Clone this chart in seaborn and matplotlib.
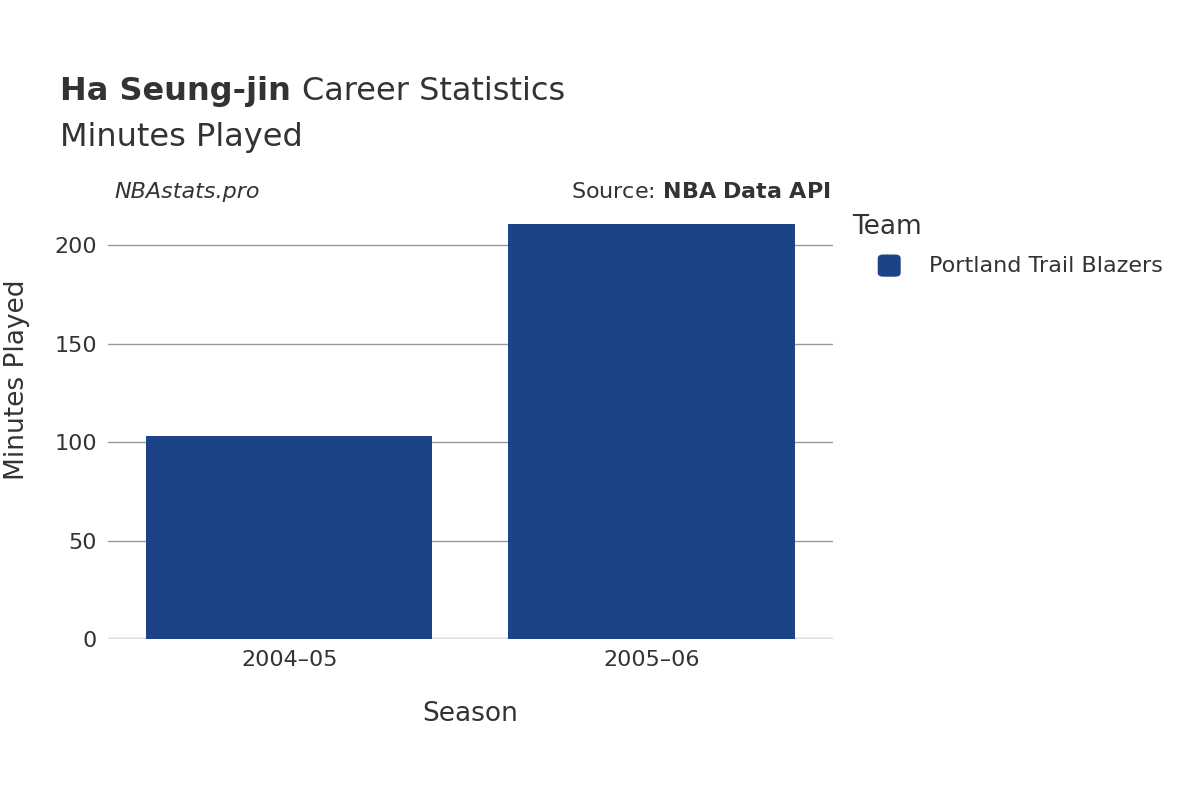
import matplotlib
matplotlib.use("Agg")
import matplotlib.pyplot as plt
import seaborn as sns
import pandas as pd

seasons = ["2004–05", "2005–06"]
minutes = [103, 211]
team = ["Portland Trail Blazers", "Portland Trail Blazers"]

df = pd.DataFrame({"Season": seasons, "Minutes": minutes, "Team": team})
plt.rcParams["font.family"] = "DejaVu Sans"
fig = plt.figure(figsize=(12, 8), dpi=100)
ax = fig.add_axes([0.09, 0.201, 0.604, 0.5465])
sns.barplot(data=df, x="Season", y="Minutes", hue="Team", palette=["#1c4387"],
            width=0.79, ax=ax, legend=False, saturation=1)
ax.set_ylim(0, 222)
ax.set_xlim(-0.5, 1.5)
ax.set_yticks([0, 50, 100, 150, 200])
ax.grid(axis="y", color="#999999", linewidth=1)
ax.set_axisbelow(True)
for s in ax.spines.values():
    s.set_visible(False)
ax.axhline(0, color="#eeeeee", linewidth=3, zorder=0.5)
ax.tick_params(length=0, labelsize=16, colors="#333333", pad=8)
ax.set_xlabel("Season", fontsize=19, color="#333333", labelpad=22)
ax.set_ylabel("")
fig.text(0.014, 0.525, "Minutes Played", fontsize=19, color="#333333", rotation=90, ha="center", va="center")
t1 = fig.text(0.05, 0.875, "Ha Seung-jin", fontsize=23, weight="bold", color="#333333")
fig.canvas.draw()
bb = t1.get_window_extent().transformed(fig.transFigure.inverted())
fig.text(bb.x1 + 0.009, 0.875, "Career Statistics", fontsize=23, color="#333333")
fig.text(0.05, 0.818, "Minutes Played", fontsize=23, color="#333333")
fig.text(0.095, 0.752, "NBAstats.pro", fontsize=16, style="italic", color="#333333")
fig.text(0.692, 0.752, "Source: $\\bf{NBA\\ Data\\ API}$", fontsize=16, color="#333333", ha="right")
fig.text(0.71, 0.708, "Team", fontsize=19, color="#333333")
from matplotlib.patches import FancyBboxPatch
fig.patches.append(FancyBboxPatch((0.732, 0.655), 0.018, 0.026, boxstyle="round,pad=0,rounding_size=0.004",
                                  transform=fig.transFigure, color="#1c4387"))
fig.text(0.774, 0.667, "Portland Trail Blazers", fontsize=16, color="#333333", va="center")
fig.savefig("out.png")
